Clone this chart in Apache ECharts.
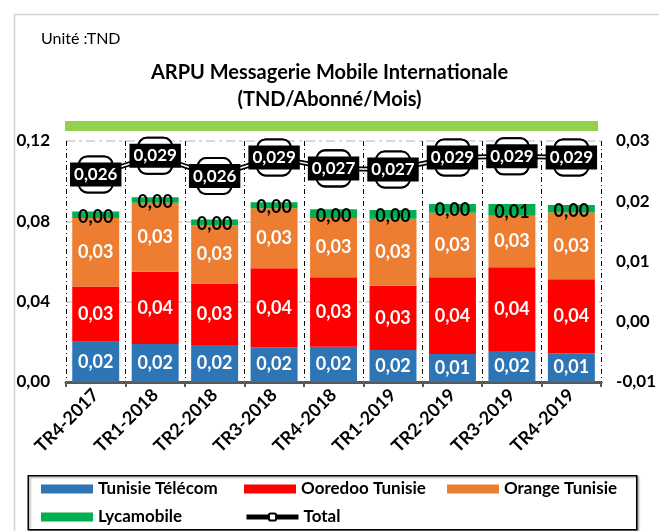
<!DOCTYPE html>
<html><head><meta charset="utf-8">
<script src="https://cdn.jsdelivr.net/npm/echarts@6/dist/echarts.min.js"></script>
<style>html,body{margin:0;padding:0;background:#fff}#c{width:659px;height:531px}</style>
</head><body><div id="c"></div>
<script>
const categories = ['TR4-2017','TR1-2018','TR2-2018','TR3-2018','TR4-2018','TR1-2019','TR2-2019','TR3-2019','TR4-2019'];
const tunisieTelecom = [0.0201,0.0189,0.0184,0.0173,0.0176,0.0159,0.0139,0.0154,0.0143];
const ooredooTunisie = [0.0274,0.0360,0.0307,0.0393,0.0346,0.0320,0.0382,0.0417,0.0369];
const orangeTunisie  = [0.0341,0.0344,0.0290,0.0299,0.0294,0.0334,0.0322,0.0257,0.0332];
const lycamobile     = [0.0033,0.0027,0.0028,0.0030,0.0044,0.0044,0.0043,0.0058,0.0037];
const total          = [0.0259,0.0293,0.0256,0.0290,0.0270,0.0268,0.0290,0.0292,0.0290];

const FONT = 'Lato';
const fmt = (d) => (v) => { if (Math.abs(v) < Math.pow(10,-d)/2) return (0).toFixed(d).replace('.',','); return v.toFixed(d).replace('.',','); };
const f2 = fmt(2), f3 = fmt(3);

const chart = echarts.init(document.getElementById('c'), null, {renderer:'canvas'});
function barSeries(name, data, color, labelColor, offsetY){
  return {
    name, type:'bar', stack:'a', data, barCategoryGap:'21%', z:2,
    itemStyle:{color},
    label:{show:true, position:'inside', offset:[0, offsetY || 0], color:labelColor, fontFamily:FONT, fontWeight:'bold', fontSize:18,
      formatter:(p)=>f2(p.value)}
  };
}
const titleStyle = {fontFamily:FONT, fontWeight:'bold', fontSize:20, color:'#000'};
const option = {
  animation:false,
  textStyle:{fontFamily:FONT},
  title:[
    {text:'Unité :TND', left:36, top:26, textStyle:{fontFamily:FONT, fontWeight:'normal', fontSize:16, color:'#000'}},
    {text:'ARPU Messagerie Mobile Internationale', left:'center', top:63, padding:0, textStyle:titleStyle},
    {text:'(TND/Abonné/Mois)', left:'center', top:90, padding:0, textStyle:titleStyle}
  ],
  graphic:[
    {type:'rect', left:12, top:12, shape:{width:700, height:600}, style:{fill:'none', stroke:'#d4d4d4', lineWidth:1.5}, silent:true, z:0},
    {type:'rect', left:65, top:121, shape:{width:533, height:10}, style:{fill:'#92d050'}, silent:true},
    {type:'rect', left:27.5, top:475, shape:{width:608.5, height:54}, style:{fill:'#fff', stroke:'#000', lineWidth:1.5, shadowColor:'rgba(0,0,0,0.35)', shadowOffsetX:1.5, shadowOffsetY:1.5, shadowBlur:2}, silent:true, z:0}
  ],
  grid:{left:66, right:56, top:141, bottom:149, containLabel:false},
  legend:{
    left:41, top:478, width:600, itemWidth:52, itemHeight:9, itemGap:6, padding:0,
    textStyle:{fontFamily:FONT, fontWeight:'bold', fontSize:17, color:'#000', width:140, lineHeight:22},
    data:[
      {name:'Tunisie Télécom', icon:'rect'},
      {name:'Ooredoo Tunisie', icon:'rect'},
      {name:'Orange Tunisie', icon:'rect', textStyle:{width:118}},
      {name:'Lycamobile', icon:'rect'},
      {name:'Total', lineStyle:{width:5, color:'#000'}, itemStyle:{color:'#fff', borderColor:'#000', borderWidth:2}}
    ],
    z:5
  },
  xAxis:{
    type:'category', data:categories,
    axisLine:{show:true, lineStyle:{color:'#595959', width:3}},
    axisTick:{show:true, length:5, lineStyle:{color:'#595959', width:2}},
    axisLabel:{rotate:45, fontFamily:FONT, fontWeight:'bold', fontSize:18, color:'#000', margin:10, interval:0},
    splitLine:{show:true, lineStyle:{color:'#000', width:1, type:[5,3,1,3]}}
  },
  yAxis:[
    {type:'value', min:0, max:0.12, interval:0.04,
     axisLine:{show:false}, axisTick:{show:false},
     axisLabel:{formatter:f2, fontFamily:FONT, fontWeight:'bold', fontSize:17, color:'#000', margin:16},
     splitLine:{show:true, lineStyle:{color:'#d9d9d9', width:2, type:[9,4,3,4]}}},
    {type:'value', min:-0.012, max:0.032, interval:0.011, position:'right',
     axisLine:{show:false}, axisTick:{show:false},
     axisLabel:{formatter:f2, fontFamily:FONT, fontWeight:'bold', fontSize:17, color:'#000', margin:15},
     splitLine:{show:false}}
  ],
  series:[
    barSeries('Tunisie Télécom', tunisieTelecom, '#2e75b6', '#fff'),
    barSeries('Ooredoo Tunisie', ooredooTunisie, '#ff0000', '#fff'),
    barSeries('Orange Tunisie', orangeTunisie, '#ed7d31', '#fff'),
    barSeries('Lycamobile', lycamobile, '#00b050', '#000', 2),
    {name:'Total', type:'line', yAxisIndex:1, data:total, z:3,
     lineStyle:{color:'#000', width:5},
     symbol:'roundRect', symbolSize:[34,36],
     itemStyle:{color:'#fff', borderColor:'#000', borderWidth:2}},
    {name:'_w', type:'line', yAxisIndex:1, data:total, z:4, silent:true, symbol:'none',
     lineStyle:{color:'#fff', width:1.5}},
    {name:'_p', type:'line', yAxisIndex:1, data:total, z:5, silent:true,
     lineStyle:{width:0, opacity:0},
     symbol:'roundRect', symbolSize:[34,36],
     itemStyle:{color:'#fff', borderColor:'#000', borderWidth:2},
     label:{show:true, position:'inside', backgroundColor:'#000', color:'#fff', fontFamily:FONT, fontWeight:'bold', fontSize:17,
       padding:[4,4,3,4], formatter:(p)=>f3(p.value)}}
  ]
};
chart.setOption(option);
</script></body></html>
